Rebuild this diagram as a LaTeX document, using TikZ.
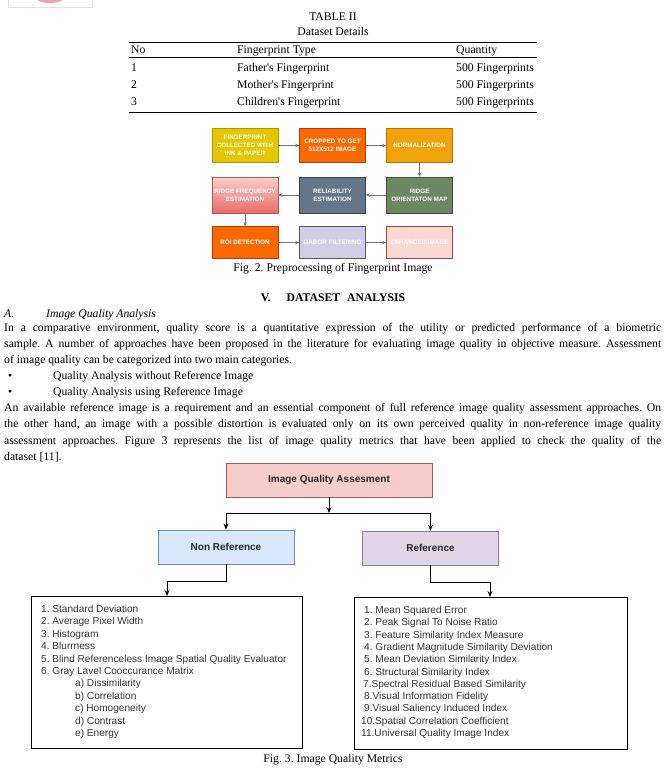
\documentclass[tikz,border=0pt]{standalone}
\usepackage{fontspec}
\setmainfont{Liberation Serif}
\newfontfamily\arial{Liberation Sans}
\usetikzlibrary{positioning,arrows.meta,calc}
\frenchspacing

\definecolor{yelfill}{HTML}{E3C800}\definecolor{yeldraw}{HTML}{B09500}
\definecolor{orafill}{HTML}{FA6800}\definecolor{oradraw}{HTML}{C73500}
\definecolor{ambfill}{HTML}{F0A30A}\definecolor{ambdraw}{HTML}{BD7000}
\definecolor{grnfill}{HTML}{6D8764}\definecolor{grndraw}{HTML}{3A5431}
\definecolor{slafill}{HTML}{647687}\definecolor{sladraw}{HTML}{314354}
\definecolor{pnkfill}{HTML}{F8CECC}\definecolor{pnkdraw}{HTML}{B85450}
\definecolor{pnkdark}{HTML}{EA6B66}
\definecolor{lavfill}{HTML}{D0CEE2}\definecolor{lavdraw}{HTML}{56517E}
\definecolor{rosfill}{HTML}{FAD9D5}\definecolor{rosdraw}{HTML}{AE4132}
\definecolor{blufill}{HTML}{DAE8FC}\definecolor{bludraw}{HTML}{6C8EBF}
\definecolor{purfill}{HTML}{E1D5E7}\definecolor{purdraw}{HTML}{9673A6}
\definecolor{logopink}{HTML}{F4A3A3}

\begin{document}
\begin{tikzpicture}[x=1pt,y=-1pt,
    body/.style={anchor=base west,inner sep=0pt,font=\fontsize{11.7}{13}\selectfont},
    ctr/.style={anchor=base,inner sep=0pt,font=\fontsize{11.7}{13}\selectfont},
    pbox/.style={draw,line width=.6pt,minimum width=66pt,minimum height=34pt,inner sep=1pt,
      align=center,text=white,font=\arial\bfseries\fontsize{6.3}{8}\selectfont},
    parr/.style={draw=black!55,line width=.8pt,-{Stealth[length=4pt,width=3.5pt]}},
    qbox/.style={draw,line width=.7pt,minimum width=136pt,minimum height=34pt,
      font=\arial\bfseries\fontsize{10}{12}\selectfont,text=black!85},
    qarr/.style={line width=.8pt,-{Stealth[length=6pt,width=5pt]}},
    item/.style={anchor=base west,inner sep=0pt,font=\arial\fontsize{10.1}{12}\selectfont,text=black!80}]

  \useasboundingbox (0,0) rectangle (667,769);

  % logo
  \begin{scope}
    \clip (0,0) rectangle (100,10);
    \fill[logopink] (50,-4) ellipse (16 and 7);
    \draw[black!12,line width=.6pt] (8,-5) rectangle (92,7);
  \end{scope}

  % table
  \node[ctr] (tabno) at (333,20) {TABLE II};
  \node[ctr] (tabcap) at (333,35.5) {Dataset Details};
  \draw[line width=.9pt] (129,42) -- (537,42);
  \draw[line width=.8pt] (129,57) -- (537,57);
  \draw[line width=.9pt] (129,112) -- (537,112);
  \foreach \y/\n/\t/\q [count=\i] in {53.5/No/Fingerprint Type/Quantity,
      71.5/1/Father\textquotesingle s Fingerprint/500 Fingerprints,
      88.5/2/Mother\textquotesingle s Fingerprint/500 Fingerprints,
      105.5/3/Children\textquotesingle s Fingerprint/500 Fingerprints}
  { \node[body] (no\i) at (131,\y) {\n};
    \node[body] (type\i) at (237,\y) {\t};
    \node[body] (qty\i) at (456,\y) {\q}; }

  % fig2
  \node[pbox,fill=yelfill,draw=yeldraw] (fp) at (245,145.5) {FINGERPRINT\\COLLECTED WITH\\INK \& PAPER};
  \node[pbox,fill=orafill,draw=oradraw] (crop) at (332.5,145.5) {CROPPED TO GET\\512X512 IMAGE};
  \node[pbox,fill=ambfill,draw=ambdraw] (norm) at (419.5,145.5) {NORMALIZATION};
  \node[pbox,top color=pnkfill,bottom color=pnkdark,draw=pnkdraw,minimum height=36pt] (rfe) at (245,195) {RIDGE FREQUENCY\\ESTIMATION};
  \node[pbox,fill=slafill,draw=sladraw,minimum height=36pt] (rel) at (332.5,195) {RELIABILITY\\ESTIMATION};
  \node[pbox,fill=grnfill,draw=grndraw,minimum height=36pt] (rom) at (419.5,195) {RIDGE\\ORIENTATON MAP};
  \node[pbox,fill=orafill,draw=oradraw,minimum height=32pt] (roi) at (245,242.5) {ROI DETECTION};
  \node[pbox,fill=lavfill,draw=lavdraw,minimum height=32pt] (gabor) at (332.5,242.5) {GABOR FILTERING};
  \node[pbox,fill=rosfill,draw=rosdraw,minimum height=32pt] (enh) at (419.5,242.5) {ENHANCED IMAGE};
  \draw[parr] (fp) -- (crop);
  \draw[parr] (crop) -- (norm);
  \draw[parr] (norm) -- (rom);
  \draw[parr] (rom) -- (rel);
  \draw[parr] (rel) -- (rfe);
  \draw[parr] (rfe) -- (roi);
  \draw[parr] (roi) -- (gabor);
  \draw[parr] (gabor) -- (enh);
  \node[ctr] (fig2) at (333,271.5) {Fig. 2. Preprocessing of Fingerprint Image};

  % text
  \node[ctr,font=\bfseries\fontsize{11.7}{13}\selectfont] (sec) at (333,301.5) {V.\hspace{16pt}DATASET\hspace{7pt}ANALYSIS};
  \node[body,font=\itshape\fontsize{11.7}{13}\selectfont] (suba) at (4,317.5) {A.};
  \node[body,font=\itshape\fontsize{11.7}{13}\selectfont] (subt) at (46,317.5) {Image Quality Analysis};
  \node[body] (p1) at (4,331.5) {\makebox[657pt][s]{In a comparative environment, quality score is a quantitative expression of the utility or predicted performance of a biometric}};
  \node[body] (p2) at (4,347.5) {\makebox[657pt][s]{sample. A number of approaches have been proposed in the literature for evaluating image quality in objective measure. Assessment}};
  \node[body] (p3) at (4,363.5) {of image quality can be categorized into two main categories.};
  \node[body] (bul1) at (8,379.5) {•};
  \node[body] (it1) at (53,379.5) {Quality Analysis without Reference Image};
  \node[body] (bul2) at (8,395.5) {•};
  \node[body] (it2) at (53,395.5) {Quality Analysis using Reference Image};
  \node[body] (q1) at (4,411.5) {\makebox[657pt][s]{An available reference image is a requirement and an essential component of full reference image quality assessment approaches. On}};
  \node[body] (q2) at (4,427.5) {\makebox[657pt][s]{the other hand, an image with a possible distortion is evaluated only on its own perceived quality in non-reference image quality}};
  \node[body] (q3) at (4,444) {\makebox[657pt][s]{assessment approaches. Figure 3 represents the list of image quality metrics that have been applied to check the quality of the}};
  \node[body] (q4) at (4,460) {dataset [11].};

  % fig3
  \node[qbox,fill=pnkfill,draw=pnkdraw,minimum width=206pt] (iqa) at (329,480) {Image Quality Assesment};
  \node[qbox,fill=blufill,draw=bludraw] (nonref) at (226,547) {Non Reference};
  \node[qbox,fill=purfill,draw=purdraw] (ref) at (430.5,548) {Reference};
  \coordinate (split) at (329,513);
  \draw[qarr] (iqa) -- (split);
  \draw[qarr] (split) -| (nonref);
  \draw[qarr] (split) -| (ref);
  \node[draw,line width=.8pt,minimum width=271pt,minimum height=152pt,inner sep=0pt,anchor=north west] (leftlist) at (31,596) {};
  \node[draw,line width=.8pt,minimum width=273pt,minimum height=152pt,inner sep=0pt,anchor=north west] (rightlist) at (354,597) {};
  \coordinate (lin) at ([xshift=136pt]leftlist.north west);
  \coordinate (rin) at ([xshift=136pt]rightlist.north west);
  \draw[qarr] (nonref) -- ++(0,34) -| (lin);
  \draw[qarr] (ref) -- ++(0,34) -| (rin);

  \foreach \x/\t [count=\i] in {41/1. Standard Deviation, 41/2. Average Pixel Width, 41/3. Histogram,
      41/4. Blurrness, 41/5. Blind Referenceless Image Spatial Quality Evaluator,
      41/6. Gray Lavel Cooccurance Matrix, 75/a) Dissimilarity, 75/b) Correlation,
      75/c) Homogeneity, 75/d) Contrast, 75/e) Energy}
  { \node[item] (l\i) at (\x,{609+12.4*(\i-1)+3.5}) {\t}; }

  \foreach \x/\t [count=\i] in {364/1. Mean Squared Error, 364/2. Peak Signal To Noise Ratio,
      364/3. Feature Similarity Index Measure, 364/4. Gradient Magnitude Similarity Deviation,
      364/5. Mean Deviation Similarity Index, 364/6. Structural Similarity Index,
      363/7.Spectral Residual Based Similarity, 364/8.Visual Information Fidelity,
      364/9.Visual Saliency Induced Index, 361/10.Spatial Correlation Coefficient,
      361/11.Universal Quality Image Index}
  { \node[item] (r\i) at (\x,{610+12.3*(\i-1)+3.5}) {\t}; }

  \node[ctr] (fig3) at (333,762) {Fig. 3. Image Quality Metrics};
\end{tikzpicture}
\end{document}
